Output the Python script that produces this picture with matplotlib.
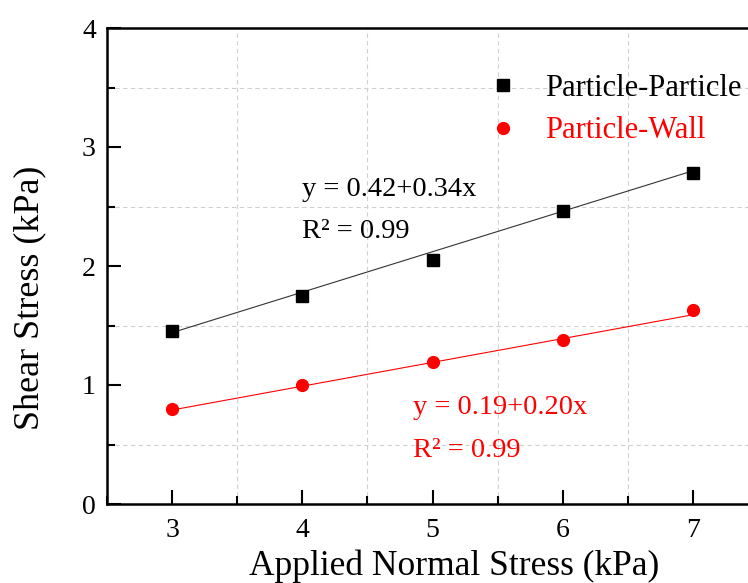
import matplotlib.pyplot as plt
import numpy as np
from matplotlib.ticker import MultipleLocator

# data
normal_stress = [3, 4, 5, 6, 7]
pp_shear = [1.45, 1.75, 2.05, 2.46, 2.78]
pw_shear = [0.80, 1.00, 1.19, 1.38, 1.63]
pp_fit = (0.42, 0.34)   # intercept, slope
pw_fit = (0.19, 0.20)
labels = ["Particle-Particle", "Particle-Wall"]

plt.rcParams['font.family'] = ['Liberation Serif', 'DejaVu Serif']

fig = plt.figure(figsize=(7.48, 5.83), dpi=100)
ax = fig.add_axes([107/748, 1-504/583, (758-107)/748, (504-28)/583])

x = np.array(normal_stress)
ax.plot(x, pp_fit[0] + pp_fit[1]*x, color='#333333', lw=0.8, zorder=2)
ax.plot(x, pw_fit[0] + pw_fit[1]*x, color='red', lw=0.8, zorder=2)
h1, = ax.plot(normal_stress, pp_shear, 's', color='black', ms=8, zorder=3, label=labels[0])
h2, = ax.plot(normal_stress, pw_shear, 'o', color='red', ms=8.5, zorder=3, label=labels[1])

ax.set_xlim(2.5, 7.5)
ax.set_ylim(0, 4)
ax.xaxis.set_major_locator(MultipleLocator(1))
ax.xaxis.set_minor_locator(MultipleLocator(0.5))
ax.yaxis.set_major_locator(MultipleLocator(1))
ax.yaxis.set_minor_locator(MultipleLocator(0.5))
ax.grid(which='minor', color='#d0d0d0', ls=(0, (4, 3)), lw=0.8)
ax.grid(which='major', visible=False)
ax.tick_params(which='both', direction='in', top=False, right=False, width=1.5, labelsize=20)
ax.tick_params(axis='x', pad=10)
ax.tick_params(axis='y', pad=8)
ax.tick_params(which='major', length=10)
ax.tick_params(which='minor', length=6)
for s in ax.spines.values():
    s.set_linewidth(1.8)
ax.spines['right'].set_visible(False)

ax.set_xlabel("Applied Normal Stress (kPa)", fontsize=25.5)
ax.set_ylabel("Shear Stress (kPa)", fontsize=26)
ax.xaxis.set_label_coords((454-107)/651, -0.096)
ax.yaxis.set_label_coords(-0.093, 0.433)

ax.text(4.0, 2.64, "y = 0.42+0.34x", fontsize=20.5, va='center')
ax.text(4.0, 2.29, "R² = 0.99", fontsize=20.5, va='center')
ax.text(4.85, 0.81, "y = 0.19+0.20x", fontsize=20.5, va='center', color='red')
ax.text(4.85, 0.45, "R² = 0.99", fontsize=20.5, va='center', color='red')

ax.legend(handles=[h1, h2], loc='upper left', bbox_to_anchor=(0.542, 0.962), frameon=False,
          fontsize=22, labelcolor=['black', 'red'], handlelength=1.0, handletextpad=0.9,
          labelspacing=0.45)

fig.savefig("out.png", dpi=100)
